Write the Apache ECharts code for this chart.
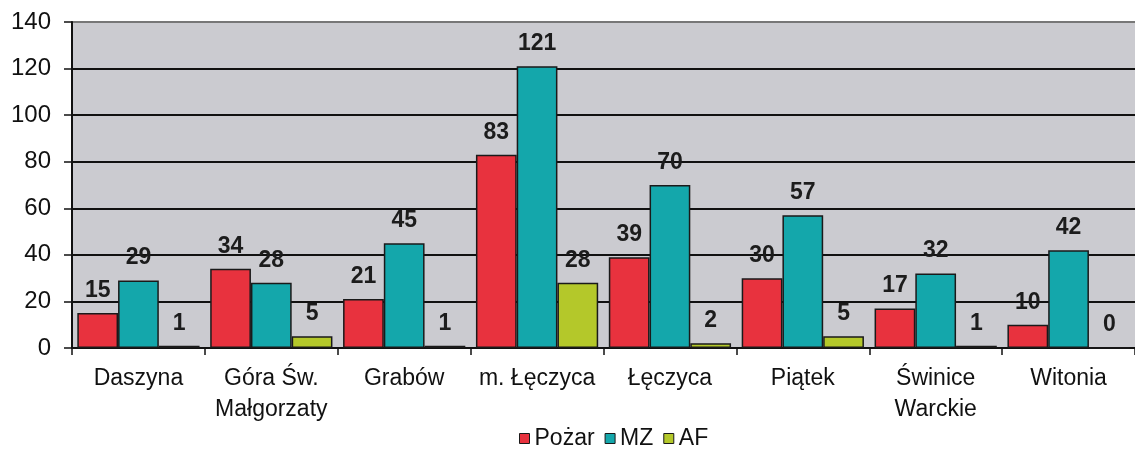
<!DOCTYPE html>
<html>
<head>
<meta charset="utf-8">
<script src="https://cdn.jsdelivr.net/npm/echarts@6/dist/echarts.min.js"></script>
<style>
html,body{margin:0;padding:0;background:#fff;}
#chart{width:1135px;height:450px;}
</style>
</head>
<body>
<div id="chart"></div>
<script>
const categories = ['Daszyna', 'Góra Św.\nMałgorzaty', 'Grabów', 'm. Łęczyca', 'Łęczyca', 'Piątek', 'Świnice\nWarckie', 'Witonia'];
const pozar = [15, 34, 21, 83, 39, 30, 17, 10];
const mz = [29, 28, 45, 121, 70, 57, 32, 42];
const af = [1, 5, 1, 28, 2, 5, 1, 0];
const seriesNames = ['Pożar', 'MZ', 'AF'];

const colors = ['#e8323e', '#14a7ab', '#b4c82a'];
const font = 'Liberation Sans, Arial, sans-serif';

function mk(name, data, color) {
  return {
    name: name, type: 'bar', data: data,
    barGap: '0%', barCategoryGap: '8%',
    itemStyle: { color: color, borderColor: '#1a1a1a', borderWidth: 1.5 },
    label: { show: true, position: 'top', distance: 11, fontSize: 23, fontWeight: 'bold', color: '#1c1c1c', fontFamily: font },
    z: 3
  };
}

const chart = echarts.init(document.getElementById('chart'));
chart.setOption({
  animation: false,
  backgroundColor: '#ffffff',
  grid: { left: 72, right: -10, top: 22, bottom: 102, show: true, backgroundColor: '#cbcbd0', borderWidth: 0 },
  legend: {
    top: 422, left: 514,
    itemWidth: 10, itemHeight: 10, itemGap: 10,
    icon: 'rect',
    textStyle: { fontSize: 23, color: '#111', fontFamily: font, padding: [0, 0, 0, 0] },
    itemStyle: { borderColor: '#1a1a1a', borderWidth: 1 },
    data: seriesNames
  },
  xAxis: {
    type: 'category', data: categories,
    axisLine: { show: true, lineStyle: { color: '#111', width: 2 } },
    axisTick: { show: true, length: 7, lineStyle: { color: '#111', width: 1.5 } },
    axisLabel: { interval: 0, fontSize: 23, color: '#111', lineHeight: 31, margin: 15, fontFamily: font },
    splitLine: { show: false }
  },
  yAxis: {
    type: 'value', min: 0, max: 140, interval: 20,
    axisLine: { show: true, lineStyle: { color: '#111', width: 2 } },
    axisTick: { show: true, length: 8, lineStyle: { color: '#111', width: 1.5 } },
    axisLabel: { fontSize: 24, color: '#111', margin: 21, fontFamily: font },
    splitLine: { show: true, lineStyle: { color: ['#111', '#111', '#111', '#111', '#111', '#111', '#111', '#777'], width: 2 } }
  },
  series: [mk(seriesNames[0], pozar, colors[0]), mk(seriesNames[1], mz, colors[1]), mk(seriesNames[2], af, colors[2])]
});
</script>
</body>
</html>
